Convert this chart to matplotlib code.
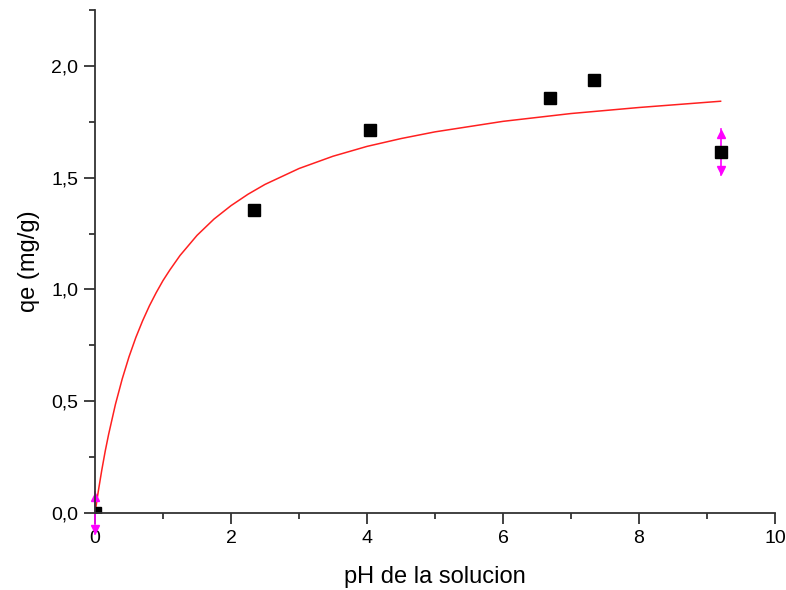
import matplotlib.pyplot as plt
from matplotlib.ticker import MultipleLocator, FuncFormatter

plt.rcParams['font.family'] = ['Liberation Sans', 'DejaVu Sans']

# measured points
ph = [0.0, 2.34, 4.04, 6.69, 7.34, 9.21]
qe = [0.0, 1.356, 1.715, 1.857, 1.937, 1.615]
qe_err = [0.095, 0.0, 0.0, 0.0, 0.0, 0.105]

# fitted curve
fit_ph = [0.0, 0.05, 0.1, 0.15, 0.2, 0.3, 0.4, 0.5, 0.6, 0.7, 0.8, 0.9, 1.0,
          1.1, 1.25, 1.5, 1.75, 2.0, 2.25, 2.5, 3.0, 3.5, 4.0, 4.5, 5.0, 6.0,
          7.0, 8.0, 9.2]
fit_qe = [0.0, 0.101, 0.193, 0.277, 0.352, 0.486, 0.600, 0.699, 0.785, 0.860,
          0.927, 0.986, 1.040, 1.087, 1.152, 1.242, 1.315, 1.375, 1.426, 1.470,
          1.541, 1.596, 1.640, 1.675, 1.705, 1.752, 1.787, 1.814, 1.842]

fig = plt.figure(figsize=(7.86, 5.9), dpi=100)
ax = fig.add_axes([0.1209, 0.1305, 0.8651, 0.8525])

ax.plot(fit_ph, fit_qe, color='#ff2020', lw=1.1, zorder=2)

# error bars with arrow heads, Origin style
for x, y, e in zip(ph, qe, qe_err):
    if e > 0:
        ax.plot([x, x], [y - e, y + e], color='#ff00ff', lw=1.2, zorder=3, clip_on=False)
        ax.plot(x, y + e - 0.025, marker='^', color='#ff00ff', ms=6, zorder=3, clip_on=False)
        ax.plot(x, y - e + 0.025, marker='v', color='#ff00ff', ms=6, zorder=3, clip_on=False)

ax.plot(ph, qe, 's', color='black', ms=8.5, zorder=4)

ax.set_xlim(0, 10)
ax.set_ylim(0, 2.25)
ax.xaxis.set_major_locator(MultipleLocator(2))
ax.xaxis.set_minor_locator(MultipleLocator(1))
ax.yaxis.set_major_locator(MultipleLocator(0.5))
ax.yaxis.set_minor_locator(MultipleLocator(0.25))
ax.yaxis.set_major_formatter(FuncFormatter(lambda v, p: f"{v:.1f}".replace('.', ',')))
ax.xaxis.set_major_formatter(FuncFormatter(lambda v, p: f"{v:g}"))

for s in ['top', 'right']:
    ax.spines[s].set_visible(False)
for s in ['left', 'bottom']:
    ax.spines[s].set_linewidth(1.3)
    ax.spines[s].set_color('#333333')
    ax.spines[s].set_zorder(5)

ax.tick_params(which='major', direction='out', length=8, width=1.3, labelsize=14,
               color='#333333', pad=4)
ax.tick_params(which='minor', direction='out', length=4.5, width=1.3, color='#333333')

ax.set_xlabel("pH de la solucion", fontsize=17, labelpad=14)
ax.set_ylabel("qe (mg/g)", fontsize=17, labelpad=8)

fig.savefig("out.png", dpi=100)
